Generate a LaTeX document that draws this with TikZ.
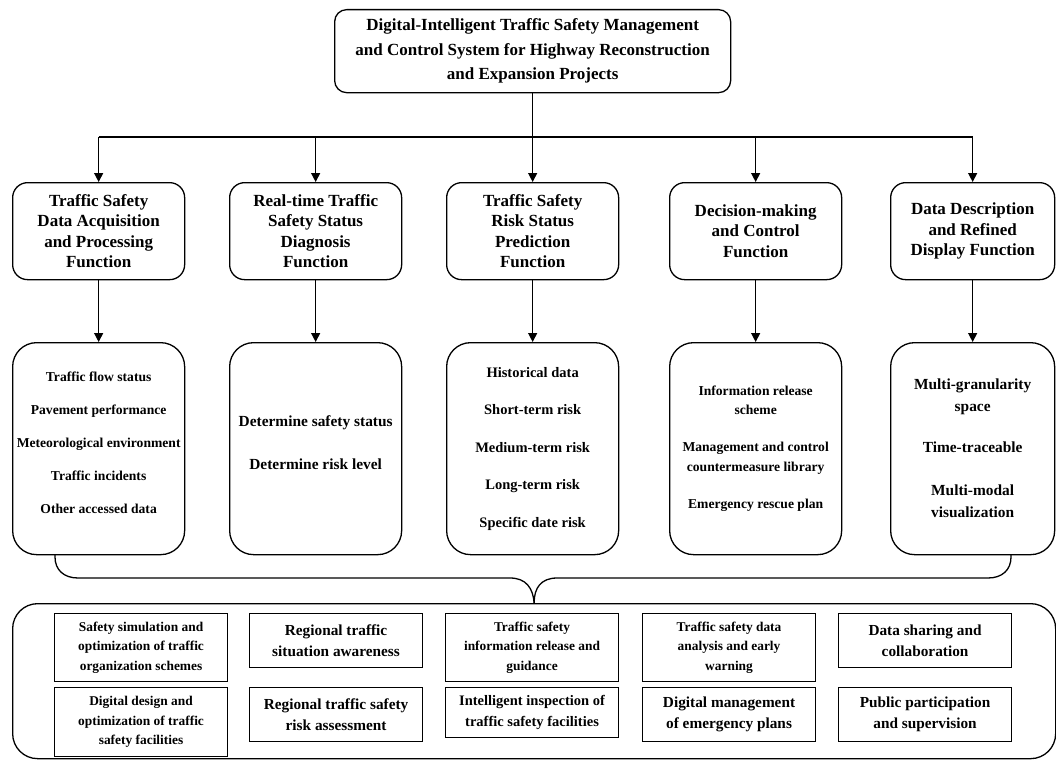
\documentclass[tikz,border=0pt]{standalone}
\usepackage{fontspec}
\setmainfont{Liberation Serif}
\usetikzlibrary{arrows.meta}
\begin{document}
\begin{tikzpicture}[x=1pt,y=-1pt,
  ln/.style={line width=1.3pt},
  topbox/.style={draw, ln, rounded corners=12pt, inner sep=0pt, align=center,
    font=\bfseries\fontsize{17}{24.5}\selectfont, minimum width=396pt, minimum height=83pt, anchor=north west},
  fnbox/.style={draw, ln, rounded corners=15pt, inner sep=0pt, align=center,
    font=\bfseries\fontsize{17}{20.5}\selectfont, minimum width=172pt, minimum height=97pt, anchor=north west},
  dtbox/.style={draw, ln, rounded corners=24pt, inner sep=0pt, align=center,
    minimum width=172pt, minimum height=212pt, anchor=north west},
  bigbox/.style={draw, ln, rounded corners=25pt, inner sep=0pt,
    minimum width=1043pt, minimum height=155pt, anchor=north west},
  apbox/.style={draw, line width=1.1pt, inner sep=0pt, align=center,
    minimum width=173pt, anchor=north west},
  three/.style={font=\bfseries\fontsize{13.4}{19.5}\selectfont},
  two/.style={font=\bfseries\fontsize{15.3}{21.5}\selectfont},
  arr/.style={ln, -{Triangle[length=9pt,width=9pt]}},
  brace/.style={ln}
]
\useasboundingbox (0,0) rectangle (1056,760);

% top
\node[topbox] (top) at (334,9) {Digital-Intelligent Traffic Safety Management\\and Control System for Highway Reconstruction\\and Expansion Projects};

% level 2
\node[fnbox] (fa) at (12,182) {Traffic Safety\\Data Acquisition\\and Processing\\Function};
\node[fnbox] (fb) at (229,182) {Real-time Traffic\\Safety Status\\Diagnosis\\Function};
\node[fnbox] (fc) at (446,182) {Traffic Safety\\Risk Status\\Prediction\\Function};
\node[fnbox] (fd) at (669,182) {Decision-making\\and Control\\Function};
\node[fnbox, minimum width=164pt] (fe) at (890,182) {Data Description\\and Refined\\Display Function};

% level 3
\node[dtbox, font=\bfseries\fontsize{13.6}{33}\selectfont] (da) at (12,342)
  {Traffic flow status\\Pavement performance\\Meteorological environment\\Traffic incidents\\Other accessed data\\[-22pt]\mbox{}};
\node[dtbox, font=\bfseries\fontsize{15.4}{43}\selectfont] (db) at (229,342)
  {Determine safety status\\Determine risk level\\[-30pt]\mbox{}};
\node[dtbox, font=\bfseries\fontsize{14.5}{37.5}\selectfont] (dc) at (446,342)
  {Historical data\\Short-term risk\\Medium-term risk\\Long-term risk\\Specific date risk};
\node[dtbox, font=\bfseries\fontsize{13.6}{19.5}\selectfont] (dd) at (669,342)
  {Information release\\scheme\\[17.5pt]Management and control\\countermeasure library\\[17.5pt]Emergency rescue plan};
\node[dtbox, minimum width=164pt, font=\bfseries\fontsize{15.4}{22}\selectfont] (de) at (890,342)
  {Multi-granularity\\space\\[19pt]Time-traceable\\[21pt]Multi-modal\\visualization};

% bottom container
\node[bigbox] (big) at (12,603) {};

% applications
\node[apbox, three, minimum height=68pt] (a1) at (54,613) {Safety simulation and\\optimization of traffic\\organization schemes};
\node[apbox, two, minimum height=54pt] (a2) at (249,613) {Regional traffic\\situation awareness};
\node[apbox, three, minimum height=68pt] (a3) at (445,613) {Traffic safety\\information release and\\guidance};
\node[apbox, three, minimum height=68pt] (a4) at (642,613) {Traffic safety data\\analysis and early\\warning};
\node[apbox, two, minimum height=54pt] (a5) at (838,613) {Data sharing and\\collaboration};
\node[apbox, three, minimum height=69pt] (b1) at (54,687) {Digital design and\\optimization of traffic\\safety facilities};
\node[apbox, two, minimum height=54pt] (b2) at (249,687) {Regional traffic safety\\risk assessment};
\node[apbox, font=\bfseries\fontsize{14.5}{21}\selectfont, minimum height=50pt] (b3) at (445,687) {Intelligent inspection of\\traffic safety facilities};
\node[apbox, two, minimum height=54pt] (b4) at (642,687) {Digital management\\of emergency plans};
\node[apbox, two, minimum height=54pt] (b5) at (838,687) {Public participation\\and supervision};

% top connectors
\coordinate (bar) at (532,137);
\draw[ln] (top.south) -- (top.south |- bar);
\draw[ln] (fa.north |- bar) -- (fe.north |- bar);
\foreach \n in {fa,fb,fc,fd,fe}
  \draw[arr] (\n.north |- bar) -- (\n.north);
\foreach \a/\b in {fa/da,fb/db,fc/dc,fd/dd,fe/de}
  \draw[arr] (\a.south) -- (\b.north);

% brace
\coordinate (brL) at (55,554);
\coordinate (brR) at (1011,554);
\coordinate (tip) at (big.north);
\draw[brace] (brL) -- (55,557) .. controls (55,570) and (64,578) .. (78,578)
  -- (510,578) .. controls (526,578) and (533,588) .. (tip);
\draw[brace] (brR) -- (1011,557) .. controls (1011,570) and (1002,578) .. (988,578)
  -- (557,578) .. controls (541,578) and (534,588) .. (tip);
\end{tikzpicture}
\end{document}
